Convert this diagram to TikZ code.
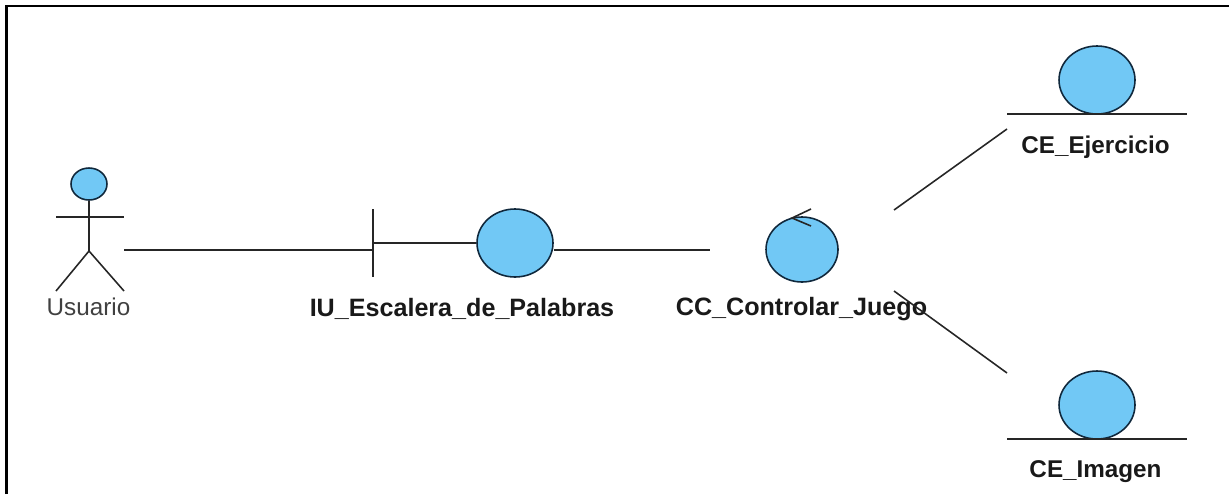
\documentclass[tikz,border=0pt]{standalone}
\usepackage{fontspec}
\setmainfont{Liberation Sans}
\usepackage{tikz}
\usetikzlibrary{shapes.geometric}
\definecolor{azul}{RGB}{113,200,245}
\definecolor{borde}{RGB}{16,40,60}
\tikzset{
	objeto/.style={draw=borde, fill=azul, ellipse, inner sep=0pt, line width=0.9pt},
	nombre/.style={font=\bfseries\fontsize{14.3}{17}\selectfont, text=black!90, inner sep=0pt},
	nombreE/.style={font=\bfseries\fontsize{13.8}{17}\selectfont, text=black!90, inner sep=0pt},
	linea/.style={black!85, line width=0.9pt}
}

\begin{document}
\begin{tikzpicture}[x=0.02cm, y=-0.02cm]
\useasboundingbox (0,0) rectangle (1229,494);
\draw[line width=1.2pt] (6.5,494) -- (6.5,6) -- (1229,6);
% actor
\node[objeto, minimum width=36*0.02cm, minimum height=32*0.02cm](cabeza) at (89,184) {};
\coordinate (cadera) at (89,251);
\coordinate (manoI) at (56,217);
\coordinate (manoD) at (124,217);
\coordinate (pieI) at (56,291);
\coordinate (pieD) at (124,291);
\draw[linea] (cabeza) -- (cadera);
\draw[linea] (manoI) -- (manoD);
\draw[linea] (pieI) -- (cadera) -- (pieD);
\node[font=\fontsize{13.8}{17}\selectfont, text=black!75, inner sep=0pt](usuario) at (88.5,307) {Usuario};
% interfaz
\node[objeto, minimum width=76*0.02cm, minimum height=68*0.02cm](iu) at (515,243) {};
\coordinate (barraA) at (373,209);
\coordinate (barraB) at (373,277);
\coordinate (barraC) at (373,243);
\draw[linea] (barraA) -- (barraB);
\draw[linea] (barraC) -- (iu);
\node[nombre](iuT) at (462,309) {IU\_Escalera\_de\_Palabras};
% control
\node[objeto, minimum width=72*0.02cm, minimum height=65*0.02cm](cc) at (802,249.5) {};
\coordinate (flechaA) at (811,209);
\coordinate (flechaB) at (792,218);
\coordinate (flechaC) at (811,226);
\draw[linea] (flechaA) -- (flechaB) -- (flechaC);
\node[nombre](ccT) at (801.5,309) {CC\_Controlar\_Juego};
% entidades
\foreach \n/\y/\t in {ej/80/CE\_Ejercicio, im/405/CE\_Imagen}
{
	\node[objeto, minimum width=76*0.02cm, minimum height=68*0.02cm](\n) at (1097,\y) {};
	\coordinate (\n I) at (1007,\y+34);
	\coordinate (\n D) at (1187,\y+34);
	\draw[linea] (\n I) -- (\n D);
	\node[nombreE](\n T) at (1095.5,\y+67) {\t};
}
% enlaces
\coordinate (u0) at (124,250);
\coordinate (u1) at (373,250);
\coordinate (c0) at (710,250);
\coordinate (e0) at (894,210);
\coordinate (e1) at (1007,129);
\coordinate (i0) at (894,291);
\coordinate (i1) at (1007,373);
\draw[linea] (u0) -- (u1);
\draw[linea] (iu.east |- c0) -- (c0);
\draw[linea] (e0) -- (e1);
\draw[linea] (i0) -- (i1);
\end{tikzpicture}
\end{document}
